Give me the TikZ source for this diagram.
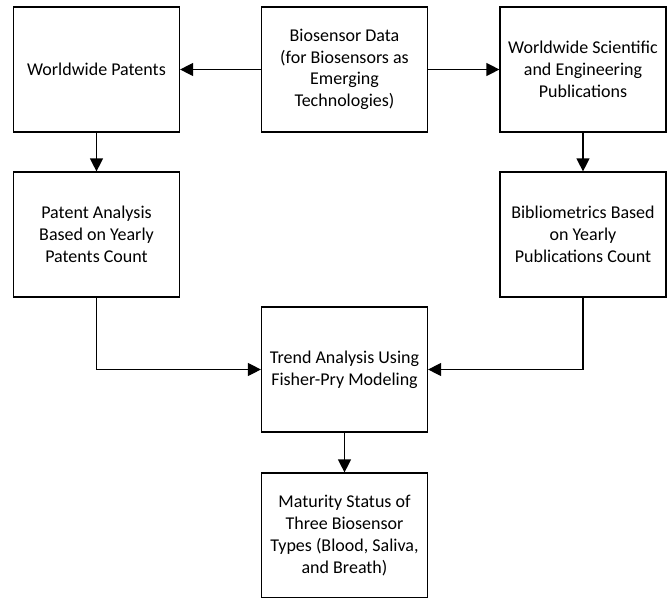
\documentclass[tikz,border=0pt]{standalone}
\usepackage{fontspec}
\setmainfont{Carlito}
\usetikzlibrary{arrows.meta}
\begin{document}
\begin{tikzpicture}[x=1pt, y=-1pt, line width=1.2pt,
  box/.style={draw, align=center, minimum width=166pt, minimum height=125pt, inner sep=0pt,
    font=\fontsize{18}{21.7}\selectfont},
  >={Triangle[length=13pt, width=13pt]}]
\useasboundingbox (0,0) rectangle (669,597);
\node[box] (pat) at (96.5,69.5) {Worldwide Patents};
\node[box] (data) at (344.5,69.5) {Biosensor Data\\(for Biosensors as\\Emerging\\Technologies)};
\node[box] (pub) at (583,69.5) {Worldwide Scientific\\and Engineering\\Publications};
\node[box] (patan) at (96.5,234.5) {Patent Analysis\\Based on Yearly\\Patents Count};
\node[box] (biblio) at (583,234.5) {Bibliometrics Based\\on Yearly\\Publications Count};
\node[box] (trend) at (344.5,369.5) {Trend Analysis Using\\Fisher-Pry Modeling};
\node[box] (mat) at (344.5,535.5) {Maturity Status of\\Three Biosensor\\Types (Blood, Saliva,\\and Breath)};
\draw[->] (data) -- (pat);
\draw[->] (data) -- (pub);
\draw[->] (pat) -- (patan);
\draw[->] (pub) -- (biblio);
\draw[->] (patan.south) |- (trend.west);
\draw[->] (biblio.south) |- (trend.east);
\draw[->] (trend) -- (mat);
\end{tikzpicture}
\end{document}
